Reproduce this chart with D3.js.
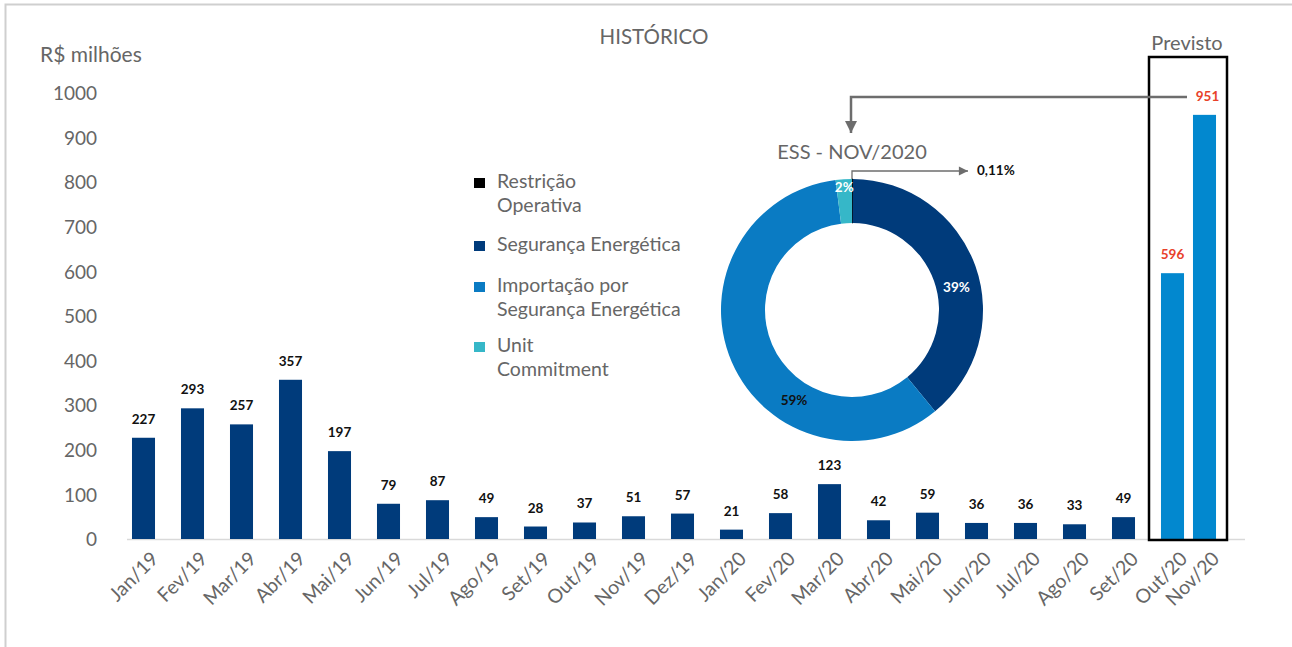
<!DOCTYPE html>
<html>
<head>
<meta charset="utf-8">
<script src="https://cdn.jsdelivr.net/npm/d3@7"></script>
<style>
  body { margin: 0; background: #fff; }
  svg { font-family: Lato, "Open Sans", sans-serif; }
  .tick text { fill: #666; font-size: 19px; font-family: Lato, sans-serif; }
  .val { font-weight: 700; font-size: 13.5px; }
</style>
</head>
<body>
<svg width="1292" height="647"></svg>
<script>
// historical months (navy) and forecast months (light blue)
const histMonths = ["Jan/19", "Fev/19", "Mar/19", "Abr/19", "Mai/19", "Jun/19", "Jul/19", "Ago/19", "Set/19", "Out/19", "Nov/19", "Dez/19",
  "Jan/20", "Fev/20", "Mar/20", "Abr/20", "Mai/20", "Jun/20", "Jul/20", "Ago/20", "Set/20"];
const histValues = [227, 293, 257, 357, 197, 79, 87, 49, 28, 37, 51, 57, 21, 58, 123, 42, 59, 36, 36, 33, 49];
const prevMonths = ["Out/20", "Nov/20"];
const prevValues = [596, 951];
const yTicks = [0, 100, 200, 300, 400, 500, 600, 700, 800, 900, 1000];

// donut ESS - NOV/2020
const essNames = ["Restrição Operativa", "Segurança Energética", "Importação por Segurança Energética", "Unit Commitment"];
const essShares = [0.11, 39, 59, 2];
const essLabels = ["", "39%", "59%", "2%"];
const essColors = ["#000000", "#003b7b", "#0a7bc3", "#36b7c8"];
const legendLines = [["Restrição", "Operativa"], ["Segurança Energética"], ["Importação por", "Segurança Energética"], ["Unit", "Commitment"]];

let svg = d3.select("svg");

// frame: only top and left edges show
svg.append("path")
  .attr("d", "M5.5,700 L5.5,4.5 L1292,4.5")
  .attr("fill", "none").attr("stroke", "#cfcfcf").attr("stroke-width", 2);

let y = d3.scaleLinear().domain([0, 1000]).range([539, 93]);
let xHist = d3.scaleBand().domain(histMonths).range([119, 1148]).paddingInner(0.53).paddingOuter(0.265);
let xPrev = d3.scaleBand().domain(prevMonths).range([1156.5, 1220.5]).paddingInner(0.28).paddingOuter(0.14);

// y axis
let yAxis = svg.append("g")
  .attr("transform", "translate(100,0)")
  .call(d3.axisLeft(y).tickValues(yTicks).tickFormat(d3.format("d")).tickSize(0).tickPadding(3));
yAxis.select(".domain").remove();
yAxis.selectAll(".tick text").attr("dy", "0.35em");

// baseline
svg.append("line")
  .attr("x1", 127).attr("x2", 1245)
  .attr("y1", y(0) + 0.5).attr("y2", y(0) + 0.5)
  .attr("stroke", "#d9d9d9").attr("stroke-width", 1.5);

// x axes
function xAxis(scale) {
  let g = svg.append("g")
    .attr("transform", "translate(0," + y(0) + ")")
    .call(d3.axisBottom(scale).tickSize(0));
  g.select(".domain").remove();
  g.selectAll(".tick text")
    .attr("text-anchor", "end")
    .attr("dy", 0)
    .style("font-size", "19.5px")
    .attr("transform", "translate(14,19) rotate(-45)");
}
xAxis(xHist);
xAxis(xPrev);

// historical bars
svg.selectAll(".bar")
  .data(histValues)
  .enter()
  .append("rect")
  .attr("class", "bar")
  .attr("x", function(d, i) { return xHist(histMonths[i]); })
  .attr("y", function(d) { return y(d); })
  .attr("width", xHist.bandwidth())
  .attr("height", function(d) { return y(0) - y(d); })
  .attr("fill", "#003b7b");

svg.selectAll(".histlabel")
  .data(histValues)
  .enter()
  .append("text")
  .attr("class", "val histlabel")
  .attr("text-anchor", "middle")
  .attr("x", function(d, i) { return xHist(histMonths[i]) + xHist.bandwidth() / 2; })
  .attr("y", function(d) { return y(d) - 14; })
  .attr("fill", "#111")
  .text(function(d) { return d; });

// forecast bars
svg.selectAll(".pbar")
  .data(prevValues)
  .enter()
  .append("rect")
  .attr("class", "pbar")
  .attr("x", function(d, i) { return xPrev(prevMonths[i]); })
  .attr("y", function(d) { return y(d); })
  .attr("width", xPrev.bandwidth())
  .attr("height", function(d) { return y(0) - y(d); })
  .attr("fill", "#0288cf");

svg.selectAll(".plabel")
  .data(prevValues)
  .enter()
  .append("text")
  .attr("class", "val plabel")
  .attr("text-anchor", "middle")
  .attr("x", function(d, i) { return xPrev(prevMonths[i]) + xPrev.bandwidth() / 2 + (i == 1 ? 3 : 0); })
  .attr("y", function(d) { return y(d) - 14; })
  .attr("fill", "#e8412a")
  .text(function(d) { return d; });

// Previsto box
svg.append("rect")
  .attr("x", 1149).attr("y", 57)
  .attr("width", 78).attr("height", 483)
  .attr("fill", "none").attr("stroke", "#000").attr("stroke-width", 2.5);

// titles
svg.append("text").attr("x", 1187).attr("y", 50).attr("text-anchor", "middle")
  .attr("fill", "#666").style("font-size", "20px").text("Previsto");
svg.append("text").attr("x", 654).attr("y", 44).attr("text-anchor", "middle")
  .attr("fill", "#666").style("font-size", "20.5px").text("HISTÓRICO");
svg.append("text").attr("x", 40).attr("y", 62)
  .attr("fill", "#666").style("font-size", "21px").text("R$ milhões");

// donut
const cx = 852, cy = 310;
let pie = d3.pie().sort(null).value(function(d) { return d; });
let arc = d3.arc().innerRadius(87).outerRadius(131);
let arcs = pie(essShares);
let donut = svg.append("g").attr("transform", "translate(" + cx + "," + cy + ")");
donut.selectAll("path")
  .data(arcs)
  .enter()
  .append("path")
  .attr("d", arc)
  .attr("fill", function(d, i) { return essColors[i]; })
  .attr("stroke", function(d, i) { return i == 0 ? "#000" : "none"; })
  .attr("stroke-width", 1);

// label spots: where along each slice, and at which radius
const labelPos = [0.5, 0.55, 0.34, 0.5];
const labelRad = [109, 107, 107, 123];
donut.selectAll(".dlabel")
  .data(arcs)
  .enter()
  .append("text")
  .attr("class", "val dlabel")
  .attr("text-anchor", "middle")
  .attr("transform", function(d, i) {
    let a = d.startAngle + (d.endAngle - d.startAngle) * labelPos[i];
    let r = labelRad[i];
    return "translate(" + (r * Math.sin(a)) + "," + (-r * Math.cos(a)) + ")";
  })
  .attr("dy", "0.35em")
  .attr("fill", function(d, i) { return i == 2 ? "#111" : "#fff"; })
  .text(function(d, i) { return essLabels[i]; });

svg.append("text").attr("x", cx).attr("y", 159).attr("text-anchor", "middle")
  .attr("fill", "#666").style("font-size", "20px").text("ESS - NOV/2020");

// arrows
let defs = svg.append("defs");
defs.append("marker")
  .attr("id", "arrow")
  .attr("viewBox", "0 0 10 10")
  .attr("refX", 10).attr("refY", 5)
  .attr("markerWidth", 5).attr("markerHeight", 5)
  .attr("markerUnits", "strokeWidth")
  .attr("orient", "auto")
  .append("path").attr("d", "M0,0 L10,5 L0,10 z").attr("fill", "#6d6d6d");
defs.append("marker")
  .attr("id", "arrow2")
  .attr("viewBox", "0 0 10 10")
  .attr("refX", 10).attr("refY", 5)
  .attr("markerWidth", 8).attr("markerHeight", 7)
  .attr("markerUnits", "strokeWidth")
  .attr("orient", "auto")
  .append("path").attr("d", "M0,0 L10,5 L0,10 z").attr("fill", "#6d6d6d");

svg.append("path")
  .attr("d", "M1187,97 L851,97 L851,133")
  .attr("fill", "none").attr("stroke", "#6d6d6d").attr("stroke-width", 2.5)
  .attr("marker-end", "url(#arrow)");
svg.append("path")
  .attr("d", "M852,179 L852,171 L968,171")
  .attr("fill", "none").attr("stroke", "#6d6d6d").attr("stroke-width", 1.3)
  .attr("marker-end", "url(#arrow2)");
svg.append("text").attr("class", "val").attr("x", 977).attr("y", 175)
  .attr("text-anchor", "start").attr("fill", "#111").text("0,11%");

// legend
let legend = svg.selectAll(".legend")
  .data(legendLines)
  .enter()
  .append("g")
  .attr("class", "legend")
  .attr("transform", function(d, i) { return "translate(474," + [178, 241, 282, 342][i] + ")"; });
legend.append("rect")
  .attr("width", 11).attr("height", 10)
  .attr("fill", function(d, i) { return essColors[i]; });
legend.append("text")
  .attr("x", 23).attr("y", 10)
  .attr("fill", "#666").style("font-size", "19.5px")
  .selectAll("tspan")
  .data(function(d) { return d; })
  .enter()
  .append("tspan")
  .attr("x", 23)
  .attr("dy", function(d, j) { return j == 0 ? 0 : 24; })
  .text(function(d) { return d; });
</script>
</body>
</html>
